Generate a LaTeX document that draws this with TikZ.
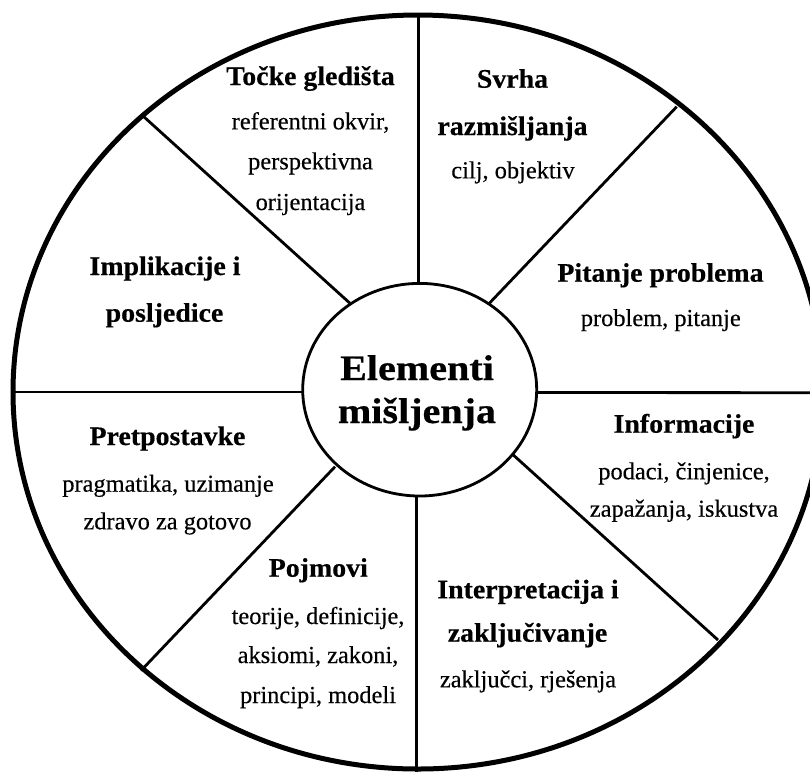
\documentclass[tikz,border=0pt]{standalone}
\usepackage{fontspec}
\setmainfont{Liberation Serif}[FakeBold=0.35]
\newfontfamily\hdfont{Liberation Serif}[FakeStretch=1.04,FakeBold=0.4]
\newfontfamily\ctrfont{Liberation Serif}[FakeStretch=1.12,FakeBold=0.5]
\begin{document}
\begin{tikzpicture}[x=1pt,y=-1pt,
  rim/.style={line width=5pt},
  spoke/.style={line width=2.8pt},
  hub/.style={line width=2.8pt, fill=white},
  hd/.style={anchor=base, font=\hdfont\fontsize{26.8}{30}\selectfont\bfseries, inner sep=0pt},
  tx/.style={anchor=base, font=\fontsize{24.4}{28}\selectfont, inner sep=0pt},
  ctr/.style={anchor=base, font=\ctrfont\fontsize{35.8}{42}\selectfont\bfseries, inner sep=0pt}]
\useasboundingbox (0,0) rectangle (810,772);
\clip (0,0) rectangle (810,772);
\fill[white] (0,0) rectangle (810,772);
\coordinate (O) at (418,392);
\coordinate (C) at (419.7,389.7);
% spokes
\coordinate (o1) at (418.3,15);   \coordinate (i1) at (418.3,284);
\coordinate (o2) at (676.7,106.7); \coordinate (i2) at (489.3,303.3);
\coordinate (o3) at (830,392.7);  \coordinate (i3) at (536,392.5);
\coordinate (o4) at (718,640);    \coordinate (i4) at (513.3,455);
\coordinate (o5) at (416.8,772);  \coordinate (i5) at (416.8,495);
\coordinate (o6) at (141,670.6);  \coordinate (i6) at (335,466.7);
\coordinate (o7) at (13,392);     \coordinate (i7) at (304,392);
\coordinate (o8) at (143,116);    \coordinate (i8) at (350,303.3);
\foreach \k in {1,...,8} \draw[spoke] (i\k) -- (o\k);
\draw[rim] (O) ellipse [x radius=405, y radius=377];
\draw[hub] (C) ellipse [x radius=117, y radius=106.3];
% texts
\node[hd] (a1) at (310.5,85) {Točke gledišta};
\node[tx] (a2) at (310.5,129.3) {referentni okvir,};
\node[tx] (a3) at (310.5,169.3) {perspektivna};
\node[tx] (a4) at (310.5,210) {orijentacija};
\node[hd] (b1) at (512.5,87.7) {Svrha};
\node[hd] (b2) at (512.5,135) {razmišljanja};
\node[tx] (b3) at (513,178.3) {cilj, objektiv};
\node[hd] (c1) at (660.5,281.7) {Pitanje problema};
\node[tx] (c2) at (660.8,326) {problem, pitanje};
\node[hd] (d1) at (684,432.7) {Informacije};
\node[tx] (d2) at (684,479.3) {podaci, činjenice,};
\node[tx] (d3) at (684,516.7) {zapažanja, iskustva};
\node[hd] (e1) at (528,598.3) {Interpretacija i};
\node[hd] (e2) at (527.5,641.7) {zaključivanje};
\node[tx] (e3) at (528,687.3) {zaključci, rješenja};
\node[hd] (f1) at (318.3,576.7) {Pojmovi};
\node[tx] (f2) at (318,624) {teorije, definicije,};
\node[tx] (f3) at (318,663) {aksiomi, zakoni,};
\node[tx] (f4) at (318,703) {principi, modeli};
\node[hd] (g1) at (167.5,445) {Pretpostavke};
\node[tx] (g2) at (168,491.7) {pragmatika, uzimanje};
\node[tx] (g3) at (167.5,529.3) {zdravo za gotovo};
\node[hd] (h1) at (165,275) {Implikacije i};
\node[hd] (h2) at (164.5,321.7) {posljedice};
\node[ctr] (m1) at (417,380) {Elementi};
\node[ctr] (m2) at (417,423) {mišljenja};
\end{tikzpicture}
\end{document}
